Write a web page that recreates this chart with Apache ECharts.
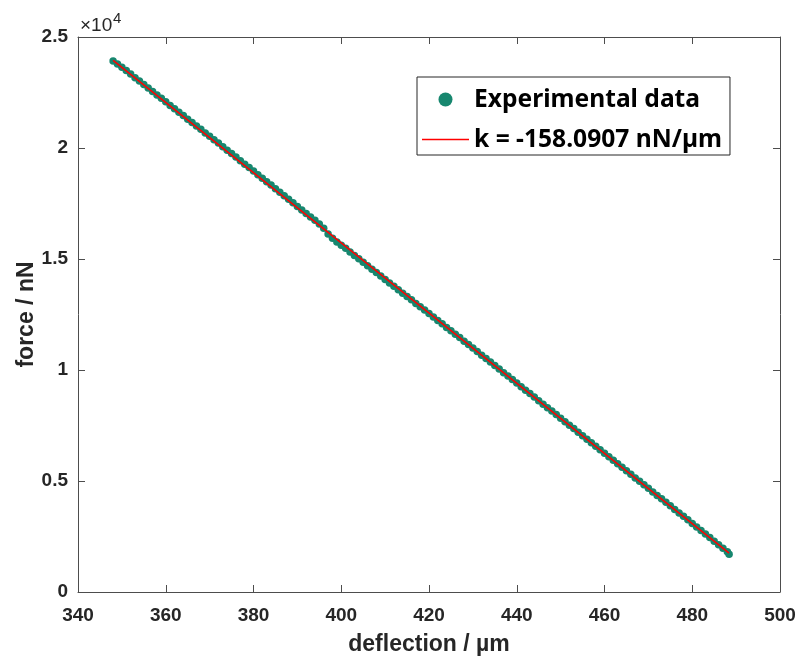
<!DOCTYPE html>
<html>
<head>
<meta charset="utf-8">
<script src="https://cdn.jsdelivr.net/npm/echarts@6/dist/echarts.min.js"></script>
<style>html,body{margin:0;padding:0;background:#fff;}#c{width:799px;height:656px;}</style>
</head>
<body>
<div id="c"></div>
<script>
// deflection (µm) of experimental points
var deflection = [348,349,350,351,352,353,354,355,356,357,358,359,360,361,362,363,364,365,366,367,368,369,370,371,372,373,374,375,376,377,378,379,380,381,382,383,384,385,386,387,388,389,390,391,392,393,394,395,396,397,398,399,400,401,402,403,404,405,406,407,408,409,410,411,412,413,414,415,416,417,418,419,420,421,422,423,424,425,426,427,428,429,430,431,432,433,434,435,436,437,438,439,440,441,442,443,444,445,446,447,448,449,450,451,452,453,454,455,456,457,458,459,460,461,462,463,464,465,466,467,468,469,470,471,472,473,474,475,476,477,478,479,480,481,482,483,484,485,486,487,488,488.4];
// force (nN) of experimental points
var force = [23920,23780,23640,23490,23330,23170,23020,22860,22700,22550,22390,22240,22080,21920,21770,21610,21460,21300,21150,20990,20840,20680,20530,20370,20220,20060,19900,19750,19590,19430,19270,19120,18960,18800,18640,18480,18330,18170,18010,17850,17690,17530,17370,17210,17050,16890,16740,16580,16390,16130,15930,15770,15620,15480,15320,15160,15010,14850,14700,14540,14390,14230,14080,13920,13770,13610,13460,13310,13160,13000,12850,12700,12540,12390,12230,12080,11920,11770,11610,11460,11300,11150,10990,10830,10670,10520,10360,10200,10040,9880,9730,9570,9410,9250,9090,8940,8780,8620,8460,8300,8150,7990,7830,7670,7510,7360,7200,7040,6880,6720,6570,6410,6250,6090,5930,5780,5620,5460,5300,5140,4990,4830,4670,4510,4350,4200,4040,3880,3720,3560,3410,3250,3090,2930,2770,2610,2450,2290,2130,1970,1810,1700];
// linear fit end points
var fitX = [348, 488.4];
var fitY = [23950, 1753];
var xTicks = [340,360,380,400,420,440,460,480,500];
var yTickLabels = ['0','0.5','1','1.5','2','2.5'];
var seriesNames = ['Experimental data', 'k = -158.0907 nN/\u00b5m'];

var scatterData = deflection.map(function(x, i){ return [x, force[i]]; });
var fitData = fitX.map(function(x, i){ return [x, fitY[i]]; });

var axisColor = '#4d4d4d';
var labelFont = {fontFamily:'Liberation Sans', fontWeight:'bold', fontSize:19, color:'#262626'};
var titleFont = {fontFamily:'Liberation Sans', fontWeight:'bold', fontSize:23, color:'#262626'};

var chart = echarts.init(document.getElementById('c'), null, {renderer:'canvas'});
chart.setOption({
  animation:false,
  backgroundColor:'#fff',
  grid:{left:78, top:37, right:19, bottom:64, containLabel:false, outerBoundsMode:'none'},
  xAxis:[{
    type:'value', min:340, max:500, interval:20, position:'bottom',
    name:'deflection / \u00b5m', nameLocation:'middle', nameGap:41, nameMoveOverlap:false,
    nameTextStyle:titleFont,
    axisLine:{show:true, onZero:false, lineStyle:{color:axisColor, width:1}},
    axisTick:{show:true, inside:true, length:7, lineStyle:{color:axisColor}},
    axisLabel:Object.assign({margin:14}, labelFont),
    splitLine:{show:false}
  },{
    type:'value', min:340, max:500, interval:20, position:'top',
    axisLine:{show:true, onZero:false, lineStyle:{color:axisColor, width:1}},
    axisTick:{show:true, inside:true, length:7, lineStyle:{color:axisColor}},
    axisLabel:{show:false}, splitLine:{show:false}
  }],
  yAxis:[{
    type:'value', min:0, max:25000, interval:5000, position:'left',
    name:'force / nN', nameLocation:'middle', nameGap:40, nameMoveOverlap:false,
    nameTextStyle:titleFont,
    axisLine:{show:true, onZero:false, lineStyle:{color:axisColor, width:1}},
    axisTick:{show:true, inside:true, length:7, lineStyle:{color:axisColor}},
    axisLabel:Object.assign({margin:10, formatter:function(v){ return yTickLabels[Math.round(v/5000)]; }}, labelFont),
    splitLine:{show:false}
  },{
    type:'value', min:0, max:25000, interval:5000, position:'right',
    axisLine:{show:true, onZero:false, lineStyle:{color:axisColor, width:1}},
    axisTick:{show:true, inside:true, length:7, lineStyle:{color:axisColor}},
    axisLabel:{show:false}, splitLine:{show:false}
  }],
  legend:{
    left:417, top:77, orient:'vertical',
    backgroundColor:'#fff', borderColor:'#262626', borderWidth:1,
    padding:[10,8,3,5], itemGap:15, itemWidth:47, itemHeight:14,
    textStyle:{fontFamily:'Noto Sans', fontWeight:'bold', fontSize:24.6, color:'#000'},
    data:[
      {name:seriesNames[0], icon:'circle'},
      {name:seriesNames[1], icon:'path://M0,0 L47,0 L47,1.5 L0,1.5 Z'}
    ]
  },
  graphic:[{
    type:'text', x:80, y:26,
    style:{text:'\u00d710', fontFamily:'Liberation Sans', fontSize:19, fill:'#262626', verticalAlign:'middle', align:'left'}
  },{
    type:'text', x:113, y:19,
    style:{text:'4', fontFamily:'Liberation Sans', fontSize:15, fill:'#262626', verticalAlign:'middle', align:'left'}
  }],
  series:[{
    name:seriesNames[0], type:'scatter', data:scatterData,
    symbol:'circle', symbolSize:7.5,
    itemStyle:{color:'#17876f', opacity:1}
  },{
    name:seriesNames[1], type:'line', data:fitData,
    symbol:'none', showSymbol:false,
    lineStyle:{color:'#ff0000', width:1.5},
    itemStyle:{color:'#ff0000'}
  }]
});
</script>
</body>
</html>
